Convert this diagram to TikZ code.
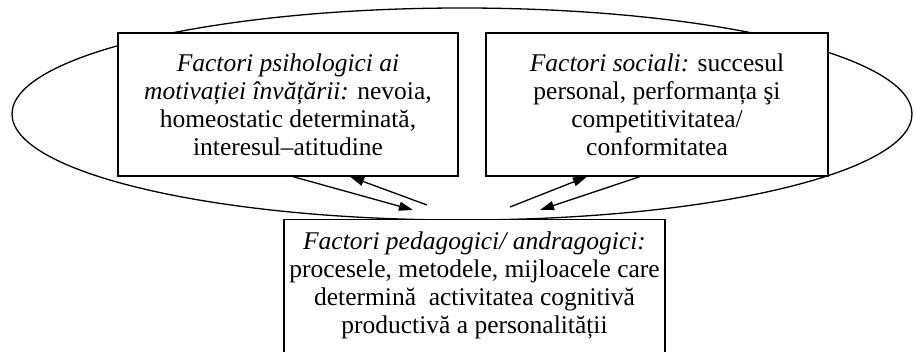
\documentclass[tikz,border=0pt]{standalone}
\usepackage{fontspec}
\setmainfont{Liberation Serif}
\usetikzlibrary{arrows.meta,positioning}
\tikzset{
  factor/.style={draw=black, line width=1.3pt, fill=white, align=center, inner xsep=0pt,
    font=\fontsize{25.5}{28}\selectfont},
  link/.style={-{Triangle[length=14pt,width=9pt]}, line width=1.3pt, draw=black}
}

\begin{document}
\begin{tikzpicture}[x=1pt,y=1pt]
  \useasboundingbox (0,0) rectangle (914,352);
  \draw[line width=1.3pt] (462,238) ellipse [x radius=450, y radius=106];

  \node[factor, minimum width=340pt, minimum height=143pt] (psih) at (288,247.5)
    {\textit{Factori psihologici ai}\\\textit{motivației învățării:} nevoia,\\homeostatic determinată,\\interesul–atitudine};
  \node[factor, minimum width=342pt, minimum height=143pt] (soc) at (657,247.5)
    {\textit{Factori sociali:} succesul\\personal, performanța şi\\competitivitatea/\\conformitatea};
  \node[factor, minimum width=381pt, inner ysep=12pt, anchor=north] (ped) at (474.5,133)
    {\textit{Factori pedagogici/ andragogici:}\\procesele, metodele, mijloacele care\\determină~ activitatea cognitivă\\productivă a personalității\rule[-20pt]{0pt}{1pt}};

  \coordinate (psihIn)  at (413,142);
  \coordinate (psihOut) at (427,147);
  \coordinate (socOut)  at (510,145);
  \coordinate (socIn)   at (540,142);

  \draw[link] ([xshift=5pt]psih.south) -- (psihIn);
  \draw[link] (psihOut) -- ([xshift=62pt]psih.south);
  \draw[link] (socOut) -- ([xshift=-70pt]soc.south);
  \draw[link] ([xshift=-17pt]soc.south) -- (socIn);
\end{tikzpicture}
\end{document}
